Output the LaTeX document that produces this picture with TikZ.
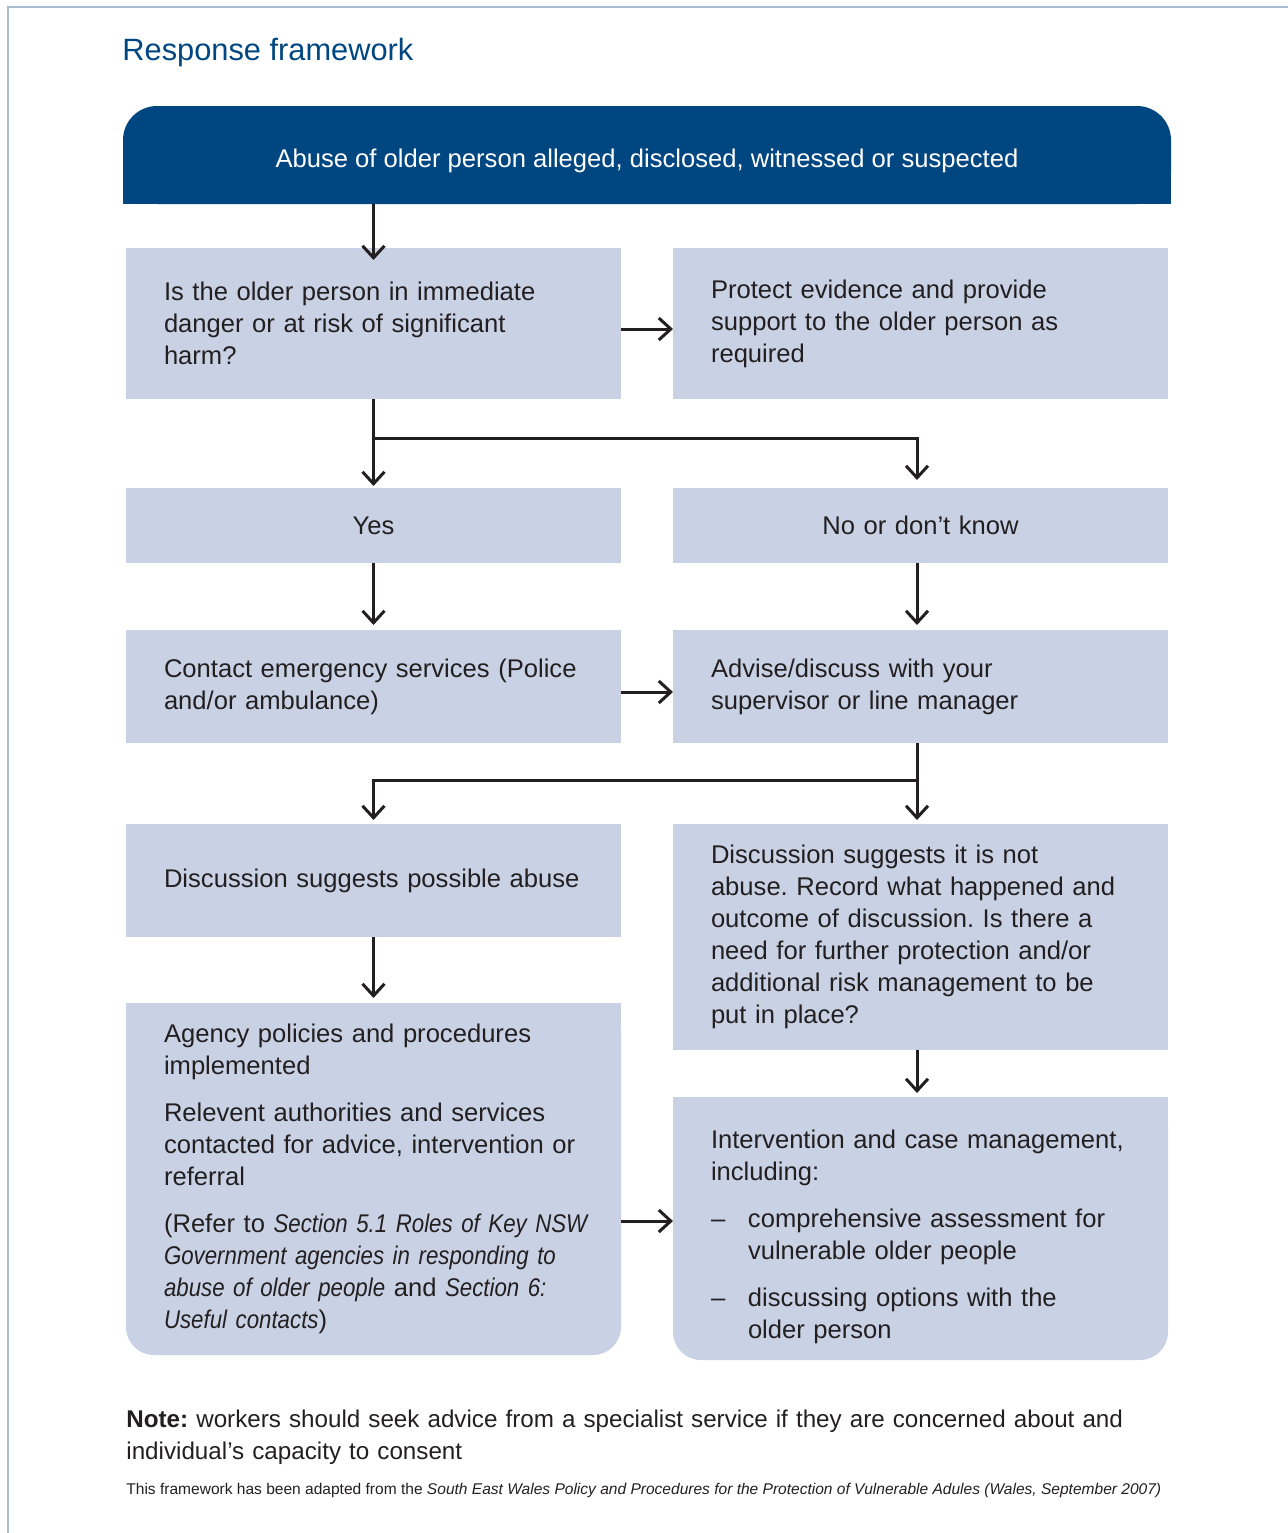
\documentclass[tikz,border=0pt]{standalone}
\usepackage{fontspec}
\setmainfont{Liberation Sans}
\newfontfamily\narrowfam[FakeStretch=0.87]{Liberation Sans}
\usetikzlibrary{arrows.meta,backgrounds}
\definecolor{headblue}{RGB}{0,70,128}
\definecolor{boxblue}{RGB}{201,210,229}
\definecolor{textgrey}{RGB}{35,31,32}
\definecolor{framegrey}{RGB}{168,189,208}
\tikzset{
	box/.style={fill=boxblue, text=textgrey, anchor=north west, outer sep=0pt, minimum width=247.5pt, text width=209.5pt, inner xsep=19pt, inner ysep=0pt, align=left, font=\fontsize{12.8}{16}\selectfont\frenchspacing},
	roundbox/.style={box, rounded corners=14pt},
	flow/.style={draw=textgrey, line width=1.5pt, -{Straight Barb[length=6pt,width=11pt]}},
}
\newcommand{\dashitem}[2]{\makebox[18.5pt][l]{--}#1\\\hspace*{18.5pt}#2}
\newcommand{\refit}[1]{{\narrowfam\itshape #1}}
\begin{document}
\begin{tikzpicture}[x=0.5pt, y=-0.5pt]
				\useasboundingbox (0,0) rectangle (1288,1533);
				\draw[framegrey, line width=1pt] (8,1533) -- (8,7) -- (1288,7);
				
				\node (title) at (122,60) [anchor=base west, inner sep=0pt, text=headblue, font=\fontsize{15.4}{18}\selectfont] {Response framework};
				
				\node (abuse) at (123,106) [anchor=north west, outer sep=0pt, fill=headblue, rounded corners=17pt, minimum width=524pt, minimum height=49pt, text=white, font=\fontsize{12.8}{16}\selectfont] {\raisebox{-3pt}[\height][\depth]{Abuse of older person alleged, disclosed, witnessed or suspected}};
				
				\node (danger) at (126,248) [box, minimum height=75.5pt] {Is the older person in immediate\\danger or at risk of significant\\harm?};
				\node (protect) at (673,248) [box, minimum height=75.5pt] {Protect evidence and provide\\support to the older person as\\required};
				
				\node (yes) at (126,488) [box, minimum height=37.5pt, align=center] {Yes};
				\node (nokn) at (673,488) [box, minimum height=37.5pt, align=center] {No or don’t know};
				
				\node (contact) at (126,630) [box, minimum height=56.5pt] {Contact emergency services (Police\\and/or ambulance)};
				\node (advise) at (673,630) [box, minimum height=56.5pt] {Advise/discuss with your\\supervisor or line manager};
				
				\node (possible) at (126,824) [box, minimum height=56.5pt] {Discussion suggests possible abuse};
				\node (notabuse) at (673,824) [box, minimum height=113pt] {Discussion suggests it is not\\abuse. Record what happened and\\outcome of discussion. Is there a\\need for further protection and/or\\additional risk management to be\\put in place?};
				
				\node (agency) at (126,1003) [roundbox, minimum height=176pt] {Agency policies and procedures\\implemented\\[7.5pt]Relevent authorities and services\\contacted for advice, intervention or\\referral\\[7.5pt]\mbox{(Refer to \refit{Section 5.1 Roles of Key NSW}}\\\mbox{\refit{Government agencies in responding to}}\\\mbox{\refit{abuse of older people} and \refit{Section 6:}}\\\mbox{\refit{Useful contacts})}};
				\node (interv) at (673,1097) [roundbox, minimum height=131.5pt] {\rule{0pt}{18pt}Intervention and case management,\\including:\\[7.5pt]\dashitem{comprehensive assessment for}{vulnerable older people}\\[7.5pt]\dashitem{discussing options with the}{older person}};
				
				\begin{scope}[on background layer]
					\fill[headblue] (abuse.west) rectangle (abuse.south east);
					\fill[boxblue] (agency.north west) rectangle (agency.east);
					\fill[boxblue] (interv.north west) rectangle (interv.east);
				\end{scope}
				
				\coordinate (split1) at ([yshift=-19.5pt]danger.south);
				\coordinate (split2) at ([xshift=-1.75pt,yshift=-18.5pt]advise.south);
				
				\draw[flow] (abuse.south -| danger.north) -- ([yshift=-6pt]danger.north);
				\draw[flow] ([yshift=-2.75pt]danger.east) -- ([yshift=-2.75pt]protect.west);
				\draw[flow, shorten >=1pt] (danger.south) -- (yes.north);
				\draw[flow] (split1) -| ([xshift=-1.75pt,yshift=4pt]nokn.north);
				\draw[flow, shorten >=2.5pt] (yes.south) -- (contact.north);
				\draw[flow, shorten >=2.5pt] ([xshift=-1.75pt]nokn.south) -- ([xshift=-1.75pt]advise.north);
				\draw[flow] ([yshift=-2.75pt]contact.east) -- ([yshift=-2.75pt]advise.west);
				\draw[flow, shorten >=2pt] ([xshift=-1.75pt]advise.south) -- ([xshift=-1.75pt]notabuse.north);
				\draw[flow, shorten >=2pt] (split2) -| (possible.north);
				\draw[flow, shorten >=2.5pt] (possible.south) -- (agency.north);
				\draw[flow, shorten >=2pt] ([xshift=-1.75pt]notabuse.south) -- ([xshift=-1.75pt]interv.north);
				\draw[flow] ([yshift=3.75pt]interv.west -| agency.east) -- ([yshift=3.75pt]interv.west);
				
				\node (note) at (126,1410) [anchor=north west, inner sep=0pt, text width=560pt, align=left, text=textgrey, font=\fontsize{12.1}{16}\selectfont\frenchspacing] {\textbf{Note:} workers should seek advice from a specialist service if they are concerned about and\\individual’s capacity to consent};
				\node (source) at (126,1494) [anchor=base west, inner sep=0pt, text=textgrey, font=\fontsize{7.77}{9}\selectfont] {This framework has been adapted from the \textit{South East Wales Policy and Procedures for the Protection of Vulnerable Adules (Wales, September 2007)}};
			\end{tikzpicture}
\end{document}
